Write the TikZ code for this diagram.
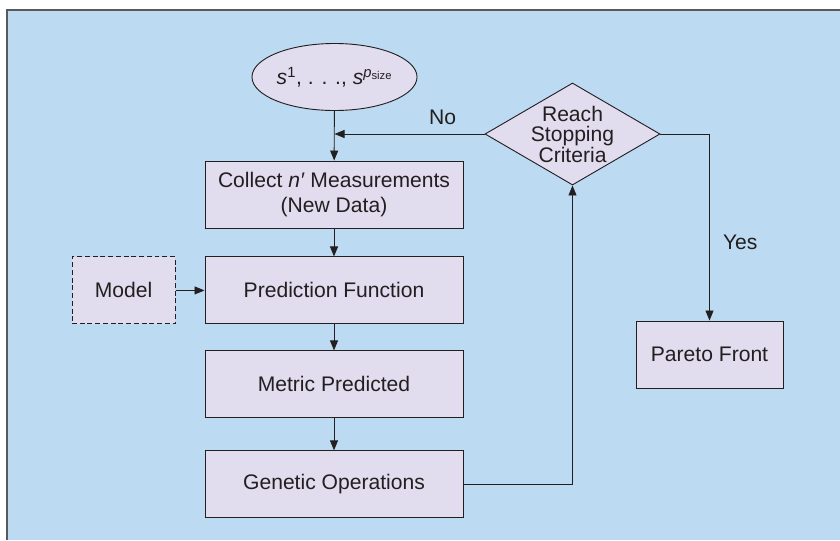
\documentclass[tikz,border=0pt]{standalone}
\usepackage{fontspec}
\setmainfont{Liberation Sans}
\usetikzlibrary{arrows.meta, positioning, shapes.geometric}

\definecolor{panelblue}{HTML}{BCDAF1}
\definecolor{boxfill}{HTML}{E1DCEE}
\definecolor{inkgray}{HTML}{231F20}

\tikzset{
  stage/.style={draw=inkgray, fill=boxfill, line width=0.65pt, minimum width=6.45cm,
    minimum height=1.675cm, align=center, inner sep=2pt},
  dashbox/.style={stage, dash pattern=on 3.5pt off 2pt, minimum width=2.575cm},
  endbox/.style={stage, minimum width=3.675cm},
  startnode/.style={ellipse, draw=inkgray, fill=boxfill, line width=0.65pt,
    minimum width=4.125cm, minimum height=1.675cm, inner sep=0pt},
  decide/.style={diamond, draw=inkgray, fill=boxfill, line width=0.65pt,
    minimum width=4.375cm, minimum height=2.55cm, inner sep=0pt},
  flow/.style={-{Triangle[length=0.25cm,width=0.2cm]}, draw=inkgray, line width=0.65pt}
}

\begin{document}
\begin{tikzpicture}[x=0.025cm, y=-0.025cm, font=\fontsize{15}{17.8}\selectfont, text=inkgray]
  \useasboundingbox (0,0) rectangle (840,540);
  \fill[panelblue] (7,10) rectangle (840,540);
  \draw[line width=1.3pt, draw=black!65] (7,540) -- (7,10) -- (840,10);

  \node[startnode] (seeds) at (334.5,77)
    {\textit{s}\textsuperscript{1}, . . ., \textit{s}\textsuperscript{\textit{p}\raisebox{-0.35ex}{\fontsize{8}{9}\selectfont size}}};
  \node[stage] (collect) at (334,194.5) {Collect \textit{n′} Measurements\\(New Data)};
  \node[stage] (pred) [below=0.7cm of collect] {Prediction Function};
  \node[stage] (metric) [below=0.65cm of pred] {Metric Predicted};
  \node[stage] (genetic) [below=0.8cm of metric] {Genetic Operations};
  \node[dashbox] (model) [left=0.725cm of pred] {Model};
  \node[decide] (crit) at (572.5,134) {};
  \node[align=center, font=\fontsize{15}{14.6}\selectfont] (crittext) at (crit.center) {Reach\\Stopping\\Criteria};
  \node[endbox] (pareto) at (709.5,354.5) {Pareto Front};
  \coordinate (join) at (seeds.south |- crit.west);

  \draw[flow] (seeds) -- (collect);
  \draw[flow] (collect) -- (pred);
  \draw[flow] (pred) -- (metric);
  \draw[flow] (metric) -- (genetic);
  \draw[flow] (model) -- (pred);
  \draw[flow] (crit.west) -- (join) node[pos=0.28, above=3pt] {No};
  \draw[flow] (crit.east) -| (pareto.north) node[pos=0.79, right=6pt] {Yes};
  \draw[flow] (genetic.east) -| (crit.south);
\end{tikzpicture}
\end{document}
